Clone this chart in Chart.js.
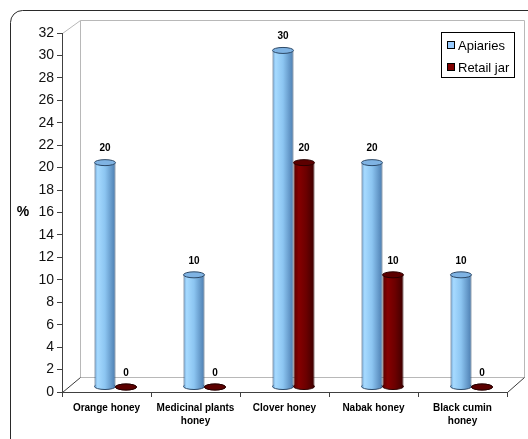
<!DOCTYPE html>
<html>
<head>
<meta charset="utf-8">
<script src="https://cdn.jsdelivr.net/npm/chart.js@4/dist/chart.umd.min.js"></script>
<style>
  html, body { margin: 0; padding: 0; background: #fff; }
  #wrap { width: 528px; height: 439px; position: relative; }
</style>
</head>
<body>
<div id="wrap"><canvas id="c" width="528" height="439"></canvas></div>
<script>
// Honey types and share (%) of samples by source
const categories = [
  ['Orange honey'],
  ['Medicinal plants', 'honey'],
  ['Clover honey'],
  ['Nabak honey'],
  ['Black cumin', 'honey']
];
const seriesNames = ['Apiaries', 'Retail jar'];
const apiaries = [20, 10, 30, 20, 10];
const retailJar = [0, 0, 20, 10, 0];
const yTickValues = [0, 2, 4, 6, 8, 10, 12, 14, 16, 18, 20, 22, 24, 26, 28, 30, 32];
const yAxisLabel = '%';

const FONT = '"Liberation Sans", Arial, sans-serif';
const SHIFT_X = 9, SHIFT_Y = -5;   // bars stand in the middle of the floor depth
const CAP_RY = 3;                  // half height of the cylinder ellipses

const looks = [
  { stops: [[0, '#6ea4d6'], [0.15, '#a6daff'], [0.5, '#8cc5f1'], [1, '#4c7db0']],
    cap: '#7fb3e3', edge: '#2c4866', swatch: '#99ccff' },
  { stops: [[0, '#560000'], [0.25, '#860000'], [0.6, '#6c0000'], [1, '#3e0000']],
    cap: '#5c0000', edge: '#2a0000', swatch: '#800000' }
];

function ellipse(ctx, x, y, rx, ry) {
  ctx.beginPath();
  ctx.ellipse(x, y, rx, ry, 0, 0, Math.PI * 2);
}

// Frame, back wall and floor outline of the 3-D plot
const frame3d = {
  id: 'frame3d',
  beforeDraw(chart) {
    const { ctx, chartArea: a } = chart;
    ctx.save();
    ctx.lineWidth = 1;
    ctx.strokeStyle = '#2a2a2a';
    ctx.beginPath();
    ctx.roundRect(10.5, 10.5, 580, 480, 12);
    ctx.stroke();

    const L = a.left + 18, T = a.top - 13, R = a.right + 17, B = a.bottom - 15;
    ctx.strokeStyle = '#b8b8b8';
    ctx.beginPath();
    ctx.moveTo(L + 0.5, B + 0.5); ctx.lineTo(L + 0.5, T + 0.5);
    ctx.lineTo(R + 0.5, T + 0.5); ctx.lineTo(R + 0.5, B + 0.5);
    ctx.lineTo(L + 0.5, B + 0.5);
    ctx.moveTo(a.left + 0.5, a.top + 0.5); ctx.lineTo(L + 0.5, T + 0.5);
    ctx.stroke();

    ctx.strokeStyle = '#3a3a3a';
    ctx.beginPath();
    ctx.moveTo(a.left + 0.5, a.bottom + 0.5); ctx.lineTo(L + 0.5, B + 0.5);
    ctx.moveTo(a.right + 0.5, a.bottom + 0.5); ctx.lineTo(R + 0.5, B + 0.5);
    ctx.stroke();
    ctx.restore();
  },
  afterDraw(chart) {
    const { ctx } = chart;
    ctx.save();
    // axis unit
    ctx.fillStyle = '#000';
    ctx.font = 'bold 14px ' + FONT;
    ctx.textAlign = 'center';
    ctx.textBaseline = 'middle';
    ctx.fillText(yAxisLabel, 23, 212);

    // legend
    ctx.fillStyle = '#fff';
    ctx.fillRect(441, 32, 74, 45);
    ctx.strokeStyle = '#000';
    ctx.lineWidth = 1;
    ctx.strokeRect(441.5, 32.5, 73, 45);
    ctx.font = '13px ' + FONT;
    ctx.textAlign = 'left';
    seriesNames.forEach((name, i) => {
      const cy = 45 + i * 22;
      ctx.fillStyle = looks[i].swatch;
      ctx.fillRect(447, cy - 4, 8, 8);
      ctx.strokeStyle = '#000';
      ctx.strokeRect(447.5, cy - 3.5, 7, 7);
      ctx.fillStyle = '#000';
      ctx.fillText(name, 458, cy + 1);
    });
    ctx.restore();
  }
};

// Turns the library's bars into cylinders with caps and value labels
const cylinders = {
  id: 'cylinders',
  beforeDatasetsDraw(chart) {
    const { ctx } = chart;
    ctx.save();
    ctx.translate(SHIFT_X, SHIFT_Y);
    chart.data.datasets.forEach((ds, di) => {
      const look = looks[di];
      chart.getDatasetMeta(di).data.forEach(bar => {
        const rx = bar.width / 2;
        const g = ctx.createLinearGradient(bar.x - rx, 0, bar.x + rx, 0);
        look.stops.forEach(s => g.addColorStop(s[0], s[1]));
        bar.options = Object.assign({}, bar.options, { backgroundColor: g, borderColor: look.edge });
        // bottom of the cylinder
        ellipse(ctx, bar.x, bar.base, rx, CAP_RY);
        ctx.fillStyle = g;
        ctx.fill();
        ctx.strokeStyle = look.edge;
        ctx.lineWidth = 1;
        ctx.stroke();
      });
    });
  },
  afterDatasetsDraw(chart) {
    const { ctx } = chart;
    chart.data.datasets.forEach((ds, di) => {
      const look = looks[di];
      chart.getDatasetMeta(di).data.forEach((bar, i) => {
        const rx = bar.width / 2;
        ellipse(ctx, bar.x, bar.y, rx, CAP_RY);
        ctx.fillStyle = look.cap;
        ctx.fill();
        ctx.strokeStyle = look.edge;
        ctx.lineWidth = 1;
        ctx.stroke();

        ctx.fillStyle = '#000';
        ctx.font = 'bold 10px ' + FONT;
        ctx.textAlign = 'center';
        ctx.textBaseline = 'middle';
        ctx.fillText(String(ds.data[i]), bar.x, bar.y - 14);
      });
    });
    ctx.restore();
  }
};

new Chart(document.getElementById('c'), {
  type: 'bar',
  data: {
    labels: categories,
    datasets: [
      { label: seriesNames[0], data: apiaries },
      { label: seriesNames[1], data: retailJar }
    ]
  },
  options: {
    responsive: false,
    devicePixelRatio: 1,
    animation: false,
    events: [],
    layout: { padding: { top: 33, right: 21, left: 0, bottom: 0 } },
    datasets: {
      bar: {
        categoryPercentage: 0.472,
        barPercentage: 1,
        borderWidth: { left: 1, right: 1, top: 0, bottom: 0 },
        borderSkipped: false,
        clip: false
      }
    },
    plugins: { legend: { display: false }, tooltip: { enabled: false } },
    scales: {
      x: {
        offset: true,
        grid: { drawOnChartArea: false, drawTicks: true, tickLength: 5, color: '#404040', offset: true },
        border: { color: '#404040' },
        ticks: { color: '#000', padding: 5, font: { family: FONT, size: 10, weight: 'bold', lineHeight: 1.3 }, maxRotation: 0, autoSkip: false },
        afterFit(s) { s.height = 47; }
      },
      y: {
        min: 0,
        max: 32,
        afterBuildTicks(s) { s.ticks = yTickValues.map(v => ({ value: v })); },
        grid: { drawOnChartArea: false, drawTicks: true, tickLength: 5, color: '#404040' },
        border: { color: '#404040' },
        ticks: { color: '#111', padding: 3, font: { family: FONT, size: 14 } },
        afterFit(s) { s.width = 62; }
      }
    }
  },
  plugins: [frame3d, cylinders]
});
</script>
</body>
</html>
